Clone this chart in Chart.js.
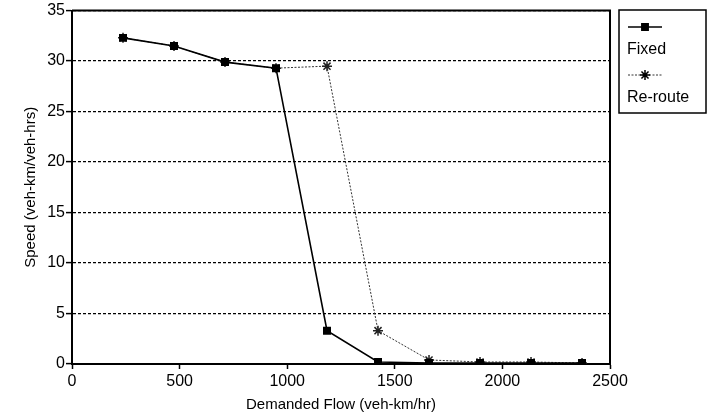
<!DOCTYPE html>
<html>
<head>
<meta charset="utf-8">
<script src="https://cdn.jsdelivr.net/npm/chart.js@4"></script>
<style>
html,body{margin:0;padding:0;background:#fff}
#wrap{width:708px;height:418px;position:relative}
</style>
</head>
<body>
<div id="wrap"><canvas id="chart" width="708" height="418"></canvas></div>
<script>
const flow = [237, 474, 711, 948, 1185, 1422, 1659, 1896, 2133, 2370]
const fixedSpeed = [32.3, 31.5, 29.9, 29.3, 3.3, 0.2, 0.1, 0.1, 0.1, 0.1]
const rerouteSpeed = [32.3, 31.5, 29.9, 29.3, 29.5, 3.3, 0.4, 0.2, 0.2, 0.1]
const seriesNames = ["Fixed", "Re-route"]
const xTitle = "Demanded Flow (veh-km/hr)"
const yTitle = "Speed (veh-km/veh-hrs)"

const FONT = "'Liberation Sans', Arial, sans-serif"

const pts = (ys) => flow.map((x, i) => ({x, y: ys[i]}))

/* frame + legend box on the right */
const framePlugin = {
id: "frame",
afterDraw(chart){
const ctx = chart.ctx
const a = chart.chartArea
ctx.save()
ctx.strokeStyle = "#000"
ctx.lineWidth = 2
ctx.beginPath()
ctx.moveTo(a.left, a.top)
ctx.lineTo(a.right, a.top)
ctx.lineTo(a.right, a.bottom)
ctx.stroke()

// legend
const lx = 619, ly = 10, lw = 87, lh = 103
ctx.lineWidth = 1.5
ctx.strokeRect(lx, ly, lw, lh)
ctx.font = "16px " + FONT
ctx.fillStyle = "#000"
ctx.textBaseline = "middle"
ctx.textAlign = "left"

chart.data.datasets.forEach((ds, i) => {
const sy = ly + 17 + i * 48
ctx.save()
ctx.strokeStyle = ds.borderColor
ctx.lineWidth = ds.borderWidth
ctx.setLineDash(ds.borderDash || [])
ctx.beginPath()
ctx.moveTo(lx + 9, sy)
ctx.lineTo(lx + 43, sy)
ctx.stroke()
ctx.restore()
Chart.helpers.drawPoint(ctx, {
pointStyle: ds.pointStyle,
radius: ds.pointRadius,
borderWidth: 1,
rotation: 0
}, lx + 26, sy)
ctx.fillText(ds.label, lx + 8, sy + 23)
})
ctx.restore()
}
}

new Chart(document.getElementById("chart"), {
type: "line",
data: {
datasets: [
{
label: seriesNames[0],
data: pts(fixedSpeed),
borderColor: "#000",
backgroundColor: "#000",
borderWidth: 1.6,
pointStyle: "rect",
pointRadius: 4.5,
pointBorderColor: "#000",
pointBackgroundColor: "#000",
tension: 0
},
{
label: seriesNames[1],
data: pts(rerouteSpeed),
borderColor: "#333",
backgroundColor: "#333",
borderWidth: 1,
borderDash: [2, 1.5],
pointStyle: "star",
pointRadius: 5,
pointBorderWidth: 1.5,
pointBorderColor: "#222",
pointBackgroundColor: "#222",
tension: 0
}
]
},
options: {
responsive: false,
animation: false,
devicePixelRatio: 1,
layout: {padding: {top: 10, right: 98, left: 0, bottom: 0}},
plugins: {legend: {display: false}, tooltip: {enabled: false}},
scales: {
x: {
type: "linear",
min: 0,
max: 2500,
afterFit: (s) => { s.height = 54 },
ticks: {stepSize: 500, color: "#000", font: {family: FONT, size: 16}, padding: 3, maxRotation: 0, callback: (v) => String(v)},
grid: {drawOnChartArea: false, drawTicks: true, tickLength: 5, tickColor: "#000", tickWidth: 1.5},
border: {display: true, color: "#000", width: 2},
title: {display: true, text: xTitle, color: "#000", font: {family: FONT, size: 15}, padding: {top: 0, bottom: 4}}
},
y: {
min: 0,
max: 35,
afterFit: (s) => { s.width = 72 },
ticks: {stepSize: 5, color: "#000", font: {family: FONT, size: 16}, padding: 1, callback: (v) => String(v)},
grid: {color: "#000", lineWidth: 1.2, drawTicks: true, tickLength: 6, tickColor: "#000", tickWidth: 1.5, tickBorderDash: []},
border: {display: true, color: "#000", width: 2, dash: [3, 2]},
title: {display: true, text: yTitle, color: "#000", font: {family: FONT, size: 15}, padding: {top: 22, bottom: 0}}
}
}
},
plugins: [framePlugin]
})
</script>
</body>
</html>
